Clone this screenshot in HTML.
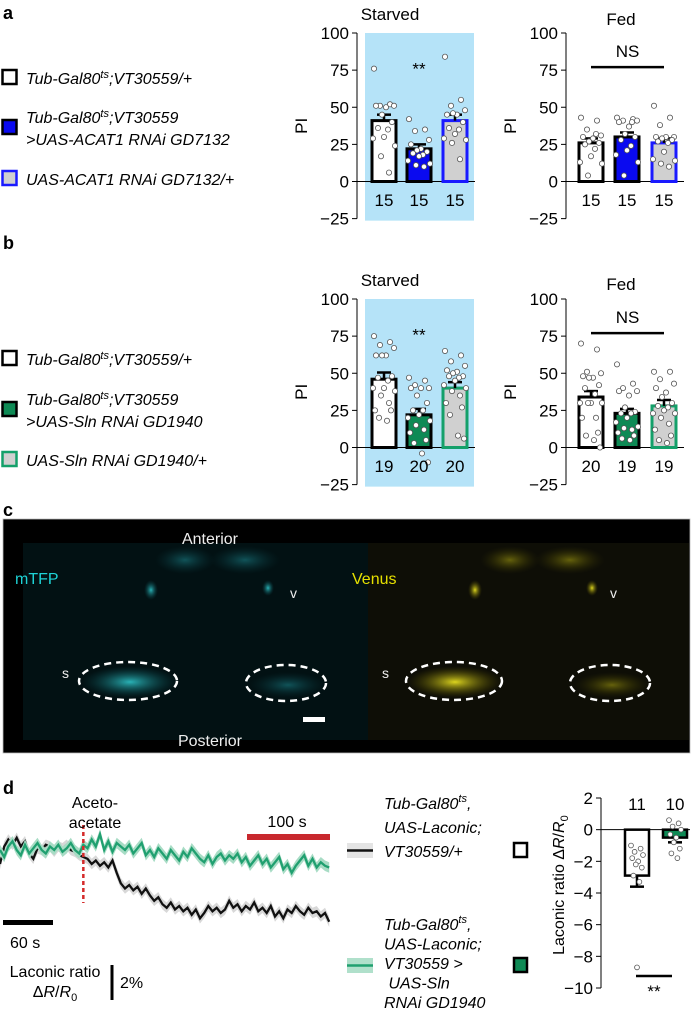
<!DOCTYPE html>
<html><head><meta charset="utf-8">
<style>
html,body{margin:0;padding:0;background:#fff;}
svg{display:block;font-family:"Liberation Sans",sans-serif;}
</style></head>
<body>
<svg id="fig" width="693" height="1011" viewBox="0 0 693 1011" xmlns="http://www.w3.org/2000/svg">
<defs>
<radialGradient id="cy" cx="50%" cy="50%" r="50%"><stop offset="0" stop-color="#2ec4c8" stop-opacity="0.9"/><stop offset="1" stop-color="#0a4a50" stop-opacity="0"/></radialGradient>
<radialGradient id="cyd" cx="50%" cy="50%" r="50%"><stop offset="0" stop-color="#1a8088" stop-opacity="0.6"/><stop offset="1" stop-color="#0a3a40" stop-opacity="0"/></radialGradient>
<radialGradient id="ye" cx="50%" cy="50%" r="50%"><stop offset="0" stop-color="#e8e020" stop-opacity="0.95"/><stop offset="1" stop-color="#504a00" stop-opacity="0"/></radialGradient>
<radialGradient id="yed" cx="50%" cy="50%" r="50%"><stop offset="0" stop-color="#a09a10" stop-opacity="0.6"/><stop offset="1" stop-color="#3a3600" stop-opacity="0"/></radialGradient>
</defs>
<g id="layer"></g>
</svg>
<script>
// ---------- data: panel a ----------
const groupsA = ["Tub-Gal80ts;VT30559/+", "Tub-Gal80ts;VT30559>UAS-ACAT1 RNAi GD7132", "UAS-ACAT1 RNAi GD7132/+"];
const aStarvedMeans = [41, 22, 41];
const aStarvedSem = [4, 3, 4];
const aStarvedN = [15, 15, 15];
const aStarvedDots1 = [76,52,51,51,51,50,45,40,36,35,30,29,24,17,6];
const aStarvedDots2 = [42,35,34,28,25,22,21,20,19,18,17,14,12,11,10];
const aStarvedDots3 = [84,55,51,48,45,45,46,40,36,35,32,29,28,26,15];
const aFedMeans = [26, 30, 26];
const aFedSem = [3, 3, 3];
const aFedN = [15, 15, 15];
const aFedDots1 = [43,41,35,31,30,29,27,26,25,22,17,13,12,4,32];
const aFedDots2 = [43,42,41,41,40,37,32,30,28,24,21,18,13,4,40];
const aFedDots3 = [51,43,38,30,30,30,29,28,27,26,20,15,14,12,10];
// ---------- data: panel b ----------
const bStarvedMeans = [46, 22, 40];
const bStarvedSem = [4.5, 4, 4];
const bStarvedN = [19, 20, 20];
const bStarvedDots1 = [75,71,69,67,62,62,62,48,47,45,40,40,38,35,30,25,25,20,18];
const bStarvedDots2 = [47,45,42,40,40,40,35,30,25,25,22,20,18,15,12,10,5,3,-4,-10];
const bStarvedDots3 = [65,62,58,55,52,51,50,48,48,47,45,42,40,38,35,30,27,22,8,6];
const bFedMeans = [34, 23, 28];
const bFedSem = [4, 3, 4];
const bFedN = [20, 19, 19];
const bFedDots1 = [70,66,51,50,48,47,47,42,40,36,30,30,30,30,20,20,10,8,5,0];
const bFedDots2 = [56,43,40,38,38,35,27,24,23,23,20,17,14,13,12,10,8,6,5];
const bFedDots3 = [51,51,46,43,40,37,34,30,28,27,25,23,23,20,16,12,8,5,3];
const piTicks = [100, 75, 50, 25, 0, -25];
// ---------- data: panel d traces (% ΔR/R0, 5 s steps) ----------
const traceTimeStep = 5;
const blackTrace = [-0.8,0.2,0.6,0.3,0.7,0.2,0.5,-0.2,-0.5,0.1,0.0,0.3,0.2,-0.1,0.2,0.1,0.3,0.0,-0.1,-0.3,-0.4,-0.5,-0.8,-0.6,-0.9,-0.7,-1.0,-0.6,-1.3,-1.9,-2.2,-2.0,-2.3,-2.1,-2.5,-2.2,-2.6,-2.9,-2.7,-3.1,-3.3,-3.0,-3.4,-3.2,-3.5,-3.3,-3.7,-3.4,-3.9,-3.6,-3.2,-3.5,-3.3,-3.6,-3.4,-2.9,-3.3,-3.1,-3.5,-3.2,-3.4,-3.0,-3.5,-3.3,-3.6,-3.2,-3.8,-3.5,-3.9,-3.4,-3.6,-3.2,-3.5,-3.7,-3.3,-3.6,-3.5,-3.8,-3.6,-4.1];
const greenTrace = [0,-0.4,0.2,0.5,0.0,-0.3,0.3,-0.2,0.1,0.4,0.0,-0.2,0.2,0.0,0.3,-0.1,0.1,0.4,0.0,-0.2,0.3,0.1,0.6,0.2,0.9,0.0,0.5,-0.1,0.4,0.2,0.0,0.3,-0.2,0.1,0.4,-0.3,0.0,-0.4,0.1,-0.2,-0.5,0.0,-0.3,-0.6,-0.1,-0.4,0.1,-0.2,-0.5,-0.7,-0.3,-0.8,-0.4,-0.2,-0.6,-0.3,-0.5,-0.2,-0.7,-0.4,-0.9,-0.6,-0.3,-0.8,-0.5,-1.0,-0.7,-0.4,-1.1,-0.8,-1.3,-0.9,-0.6,-0.3,-0.9,-0.5,-1.0,-0.7,-0.9,-1.0];
const injectionTime = 100;
// ---------- data: panel d bars ----------
const dMeans = [-2.9, -0.5];
const dErrLow = [-3.6, -0.8];
const dN = [11, 10];
const dDots1 = [-1.0,-1.2,-1.4,-1.6,-1.8,-2.0,-2.2,-2.4,-2.9,-3.3,-8.7];
const dDots2 = [0.6,0.4,0.2,0.0,-0.3,-0.5,-0.8,-1.2,-1.5,-1.8];
const dTicks = [2, 0, -2, -4, -6, -8, -10];

const NS = "http://www.w3.org/2000/svg";
const L = document.getElementById('layer');
function el(tag, attrs, parent) {
  const e = document.createElementNS(NS, tag);
  for (const k in attrs) e.setAttribute(k, attrs[k]);
  (parent || L).appendChild(e);
  return e;
}
function txt(x, y, s, size, anchor, extra) {
  const t = el('text', Object.assign({x: x, y: y, 'font-size': size, 'text-anchor': anchor || 'start', fill: '#000'}, extra || {}));
  t.textContent = s;
  return t;
}
const jitter = [-10,6,-4,10,-8,2,-2,8,-6,4,0,-11,11,-3,5,-9,7,-5,3,9];

function barPanel(name, axisX, y100, means, sem, n, dots, centers, fills, strokes, bg, ns) {
  const k = 1.485;
  const y = v => y100 + (100 - v) * k;
  const g = el('g', {});
  
  
  if (bg) {
    const r = el('rect', {x: axisX + 8, y: y(100), width: 109, height: y(-25) - y(100) + 2, fill: '#b5e3f8'}, g);
    
    
  }
  el('line', {x1: axisX, y1: y(100), x2: axisX, y2: y(-25), stroke: '#000', 'stroke-width': 1}, g);
  piTicks.forEach(t => {
    el('line', {x1: axisX - 5, y1: y(t), x2: axisX, y2: y(t), stroke: '#000'}, g);
    const lab = txt(axisX - 8, y(t) + 6, t < 0 ? '\u2212' + (-t) : String(t), 17, 'end', {}); g.appendChild(lab);
    
    
  });
  el('line', {x1: axisX, y1: y(0), x2: axisX + 118, y2: y(0), stroke: '#000'}, g);
  const pl = txt(0, 0, 'PI', 17, 'middle', {transform: `translate(${axisX - 50},${y(37.5)}) rotate(-90)`}); g.appendChild(pl);
  
  
  means.forEach((m, i) => {
    const cx = centers[i];
    const b = el('rect', {x: cx - 12, y: y(m), width: 24, height: y(0) - y(m), fill: fills[i], stroke: strokes[i], 'stroke-width': 3}, g);
    
    
    el('line', {x1: cx, y1: y(m), x2: cx, y2: y(m + sem[i]), stroke: '#000', 'stroke-width': 2.5}, g);
    el('line', {x1: cx - 7, y1: y(m + sem[i]), x2: cx + 7, y2: y(m + sem[i]), stroke: '#000', 'stroke-width': 2.5}, g);
    dots[i].forEach((v, j) => {
      const d = el('circle', {cx: cx + jitter[j % jitter.length], cy: y(v), r: 2.6, fill: '#fff', stroke: '#555', 'stroke-width': 0.8}, g);
      
      
    });
    const nl = txt(cx, y(-12.5) + 6, String(n[i]), 17, 'middle'); g.appendChild(nl);
    
    
  });
  if (ns) {
    el('line', {x1: centers[0], y1: y(77), x2: centers[2], y2: y(77), stroke: '#000', 'stroke-width': 2.5}, g);
    const t = txt((centers[0] + centers[2]) / 2, y(84), 'NS', 17, 'middle'); g.appendChild(t);
    
    
  } else {
    const t = txt(centers[1], y(72), '**', 17, 'middle'); g.appendChild(t);
    
    
  }
}
const cS = [384, 419, 455], cF = [591, 627, 664];
barPanel('panel-a-starved', 357, 33, aStarvedMeans, aStarvedSem, aStarvedN, [aStarvedDots1, aStarvedDots2, aStarvedDots3], cS, ['#fff', '#0a0af0', '#d0d0d0'], ['#000', '#000', '#1a1aff'], true, false);
barPanel('panel-a-fed', 566, 33, aFedMeans, aFedSem, aFedN, [aFedDots1, aFedDots2, aFedDots3], cF, ['#fff', '#0a0af0', '#d0d0d0'], ['#000', '#000', '#1a1aff'], false, true);
barPanel('panel-b-starved', 357, 299, bStarvedMeans, bStarvedSem, bStarvedN, [bStarvedDots1, bStarvedDots2, bStarvedDots3], cS, ['#fff', '#0e8a55', '#d0d0d0'], ['#000', '#000', '#14a06a'], true, false);
barPanel('panel-b-fed', 566, 299, bFedMeans, bFedSem, bFedN, [bFedDots1, bFedDots2, bFedDots3], cF, ['#fff', '#0e8a55', '#d0d0d0'], ['#000', '#000', '#14a06a'], false, true);
</script>

<script>
(function(){
  let e;
  e = txt(3, 19, 'a', 18, 'start', {'font-weight':'bold'});  
  e = txt(3, 249, 'b', 18, 'start', {'font-weight':'bold'});  
  e = txt(3, 516, 'c', 18, 'start', {'font-weight':'bold'});  
  e = txt(3, 794, 'd', 18, 'start', {'font-weight':'bold'});  
  [[390,15],[621,20],[390,281],[621,285]].forEach((p,i)=>{
    const s = txt(p[0], p[1]+5, i%2===0?'Starved':'Fed', 17, 'middle');
    
    
  });
  function legendRow(y, fill, stroke, lines, name) {
    const r = el('rect', {x: 2.5, y: y - 8, width: 14, height: 14, fill: fill, stroke: stroke, 'stroke-width': 2.5});
    
    
    lines.forEach((ln, i) => {
      const tx = el('text', {x: 26, y: y + 6 + (i - (lines.length - 1) / 2) * 22, 'font-size': 16, 'font-style': 'italic', fill: '#000'});
      tx.innerHTML = ln;
      
      
    });
  }
  const sup = '<tspan font-size="11" dy="-6">ts</tspan><tspan dy="6">';
  legendRow(78, '#fff', '#000', ['Tub-Gal80' + sup + ';VT30559/+</tspan>'], 'legend-control-a');
  legendRow(128, '#0a0af0', '#000', ['Tub-Gal80' + sup + ';VT30559</tspan>', '&gt;UAS-ACAT1 RNAi GD7132'], 'legend-acat1-rnai');
  legendRow(179, '#d0d0d0', '#1a1aff', ['UAS-ACAT1 RNAi GD7132/+'], 'legend-uas-acat1');
  legendRow(359, '#fff', '#000', ['Tub-Gal80' + sup + ';VT30559/+</tspan>'], 'legend-control-b');
  legendRow(410, '#0e8a55', '#000', ['Tub-Gal80' + sup + ';VT30559</tspan>', '&gt;UAS-Sln RNAi GD1940'], 'legend-sln-rnai');
  legendRow(460, '#d0d0d0', '#14a06a', ['UAS-Sln RNAi GD1940/+'], 'legend-uas-sln');
})();
</script>

<script>
(function(){
  const g = el('g', {});
  
  
  el('rect', {x: 3, y: 519, width: 687, height: 234, fill: '#000', stroke: '#bbb', 'stroke-width': 0.8}, g);
  el('rect', {x: 23, y: 543, width: 345, height: 197, fill: '#021113'}, g);
  el('rect', {x: 368, y: 543, width: 321, height: 197, fill: '#0e0e06'}, g);
  el('ellipse', {cx: 185, cy: 560, rx: 30, ry: 14, fill: 'url(#cyd)'}, g);
  el('ellipse', {cx: 245, cy: 560, rx: 35, ry: 14, fill: 'url(#cyd)'}, g);
  el('ellipse', {cx: 510, cy: 560, rx: 30, ry: 14, fill: 'url(#yed)'}, g);
  el('ellipse', {cx: 570, cy: 560, rx: 35, ry: 14, fill: 'url(#yed)'}, g);
  el('ellipse', {cx: 151, cy: 590, rx: 7, ry: 10, fill: 'url(#cy)'}, g);
  el('ellipse', {cx: 268, cy: 588, rx: 6, ry: 8, fill: 'url(#cy)'}, g);
  el('ellipse', {cx: 475, cy: 590, rx: 7, ry: 10, fill: 'url(#ye)'}, g);
  el('ellipse', {cx: 592, cy: 588, rx: 6, ry: 8, fill: 'url(#ye)'}, g);
  el('ellipse', {cx: 130, cy: 682, rx: 48, ry: 16, fill: 'url(#cy)'}, g);
  el('ellipse', {cx: 288, cy: 685, rx: 38, ry: 13, fill: 'url(#cyd)'}, g);
  el('ellipse', {cx: 455, cy: 682, rx: 48, ry: 16, fill: 'url(#ye)'}, g);
  el('ellipse', {cx: 612, cy: 685, rx: 38, ry: 13, fill: 'url(#yed)'}, g);
  [[128,681,49,19],[286,683,40,18],[454,681,48,19],[610,683,40,18]].forEach(p=>{
    const o = el('ellipse', {cx: p[0], cy: p[1], rx: p[2], ry: p[3], fill: 'none', stroke: '#fff', 'stroke-width': 2.5, 'stroke-dasharray': '7 5'}, g);
    
    
  });
  el('rect', {x: 303, y: 717, width: 22, height: 5, fill: '#fff'}, g);
  const lbls = [[210,544,'Anterior','#eee','middle',16],[210,746,'Posterior','#eee','middle',16],[15,584,'mTFP','#1ed3d6','start',16],[352,584,'Venus','#e6e000','start',16],
    [290,598,'v','#eee','start',14],[610,598,'v','#eee','start',14],[62,678,'s','#eee','start',14],[382,678,'s','#eee','start',14]];
  lbls.forEach(l=>{
    const t = txt(l[0], l[1], l[2], l[5], l[4], {fill: l[3]}); g.appendChild(t);
    
    
  });
})();
</script>

<script>
(function(){
  const x0 = 0, pxPerSec = 50 / 60, y0 = 850, pxPerPct = 17.5;
  const tx = t => x0 + t * pxPerSec;
  const ty = v => y0 - v * pxPerPct;
  function trace(vals, col, band, name) {
    const top = vals.map((v, i) => tx(i * traceTimeStep).toFixed(1) + ',' + ty(v + 0.3).toFixed(1));
    const bot = vals.map((v, i) => tx(i * traceTimeStep).toFixed(1) + ',' + ty(v - 0.3).toFixed(1)).reverse();
    const b = el('polygon', {points: top.concat(bot).join(' '), fill: band, stroke: 'none'});
    
    
    const l = el('polyline', {points: vals.map((v, i) => tx(i * traceTimeStep).toFixed(1) + ',' + ty(v).toFixed(1)).join(' '), fill: 'none', stroke: col, 'stroke-width': 2.3});
    
    
  }
  trace(blackTrace, '#111', '#d8d8d8', 'control-trace');
  trace(greenTrace, '#20a070', '#a8dcc5', 'sln-rnai-trace');
  let e = el('line', {x1: tx(injectionTime), y1: 825, x2: tx(injectionTime), y2: 903, stroke: '#d42a2a', 'stroke-width': 2.5, 'stroke-dasharray': '4 3'});
   
  e = txt(95, 808, 'Aceto-', 16, 'middle');  
  e = txt(95, 828, 'acetate', 16, 'middle');  
  e = el('rect', {x: 247, y: 834, width: 83, height: 6, fill: '#c8282e'});  
  e = txt(287, 827, '100 s', 16, 'middle');  
  e = el('rect', {x: 3, y: 920, width: 50, height: 5, fill: '#000'});  
  e = txt(10, 948, '60 s', 16);  
  e = txt(55, 977, 'Laconic ratio', 16, 'middle');  
  e = el('text', {x: 55, y: 997, 'font-size': 16, 'text-anchor': 'middle'});
  e.innerHTML = '\u0394<tspan font-style="italic">R</tspan>/<tspan font-style="italic">R</tspan><tspan font-size="11" dy="4">0</tspan>';
   
  e = el('rect', {x: 110.5, y: 965, width: 3, height: 35, fill: '#000'});  
  e = txt(120, 988, '2%', 16);  
  el('rect', {x: 347, y: 843, width: 26, height: 15, fill: '#e4e4e4'});
  el('line', {x1: 347, y1: 850.5, x2: 373, y2: 850.5, stroke: '#111', 'stroke-width': 2.5});
  el('rect', {x: 347, y: 958, width: 26, height: 15, fill: '#b0e0cb'});
  el('line', {x1: 347, y1: 965.5, x2: 373, y2: 965.5, stroke: '#20a070', 'stroke-width': 2.5});
  const sup = 'Tub-Gal80<tspan font-size="11" dy="-7">ts</tspan><tspan dy="7">,</tspan>';
  const l1 = [sup, 'UAS-Laconic;', 'VT30559/+'];
  const l2 = [sup, 'UAS-Laconic;', 'VT30559 &gt;', '&#160;UAS-Sln', 'RNAi GD1940'];
  l1.forEach((s,i)=>{ const t = el('text',{x:384,y:809+i*24,'font-size':16,'font-style':'italic'}); t.innerHTML=s;   });
  l2.forEach((s,i)=>{ const t = el('text',{x:384,y:930+i*19.5,'font-size':16,'font-style':'italic'}); t.innerHTML=s;   });
  e = el('rect', {x: 514, y: 843, width: 13, height: 14, fill: '#fff', stroke: '#000', 'stroke-width': 2.5});  
  e = el('rect', {x: 514, y: 958, width: 13, height: 14, fill: '#0e8a55', stroke: '#000', 'stroke-width': 2.5});  
  const ax = 601, yTop = 798, k = 190 / 12;
  const y = v => yTop + (2 - v) * k;
  el('line', {x1: ax, y1: y(2), x2: ax, y2: y(-10), stroke: '#000'});
  dTicks.forEach(t=>{
    el('line', {x1: ax - 5, y1: y(t), x2: ax, y2: y(t), stroke: '#000'});
    const lb = txt(ax - 8, y(t) + 6, t < 0 ? '\u2212' + (-t) : String(t), 17, 'end');
     
  });
  el('line', {x1: ax, y1: y(0), x2: 690, y2: y(0), stroke: '#000'});
  const yl = el('text', {x: 0, y: 0, 'font-size': 16, 'text-anchor': 'middle', transform: `translate(564,${y(-3.5)}) rotate(-90)`});
  yl.innerHTML = 'Laconic ratio \u0394<tspan font-style="italic">R</tspan>/<tspan font-style="italic">R</tspan><tspan font-size="11" dy="4">0</tspan>';
   
  const cx = [637, 675], fills = ['#fff', '#0e8a55'], dots = [dDots1, dDots2];
  dMeans.forEach((m,i)=>{
    const b = el('rect', {x: cx[i] - 12, y: y(0), width: 24, height: y(m) - y(0), fill: fills[i], stroke: '#000', 'stroke-width': 2.5});
     
    el('line', {x1: cx[i], y1: y(m), x2: cx[i], y2: y(dErrLow[i]), stroke: '#000', 'stroke-width': 2.5});
    el('line', {x1: cx[i] - 7, y1: y(dErrLow[i]), x2: cx[i] + 7, y2: y(dErrLow[i]), stroke: '#000', 'stroke-width': 2.5});
    dots[i].forEach((v,j)=>{
      const d = el('circle', {cx: cx[i] + jitter[j % jitter.length] * 0.6, cy: y(v), r: 2.4, fill: '#fff', stroke: '#555', 'stroke-width': 0.8});
       
    });
    const nl = txt(cx[i], 810, String(dN[i]), 17, 'middle');
     
  });
  el('line', {x1: 636, y1: 976, x2: 672, y2: 976, stroke: '#000', 'stroke-width': 2.5});
  e = txt(654, 997, '**', 17, 'middle');  
})();
</script>
</body></html>
